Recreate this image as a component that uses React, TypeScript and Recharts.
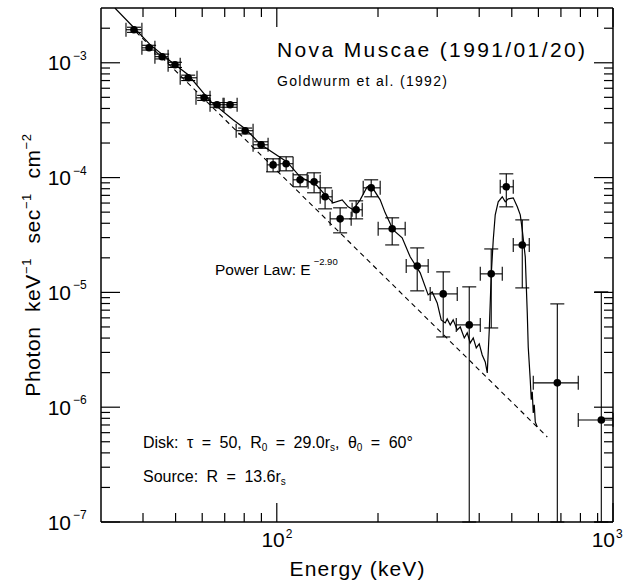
import React from 'react';
import { ComposedChart, Line, Scatter, XAxis, YAxis, ErrorBar } from 'recharts';

// Hard X-ray spectrum of Nova Muscae, 1991 January 20 (log–log)

// Measured spectral points: energy (keV), photon flux, and error-bar bounds
const pointEnergy = [37.6, 41.7, 45.6, 49.8, 54.5, 60.8, 66.4, 72.6, 80.5, 89.8, 97.5, 106.6, 117.3, 129.1, 139.2, 154.3, 172.2, 190.9, 220.4, 261.6, 312.6, 373.6, 434.3, 481.5, 537.2, 682.9, 923];
const pointFlux = [1.94e-3, 1.35e-3, 1.13e-3, 9.6e-4, 7.4e-4, 4.95e-4, 4.31e-4, 4.31e-4, 2.56e-4, 1.93e-4, 1.29e-4, 1.32e-4, 9.56e-5, 9.18e-5, 6.8e-5, 4.37e-5, 5.24e-5, 8.14e-5, 3.58e-5, 1.7e-5, 9.7e-6, 5.21e-6, 1.45e-5, 8.31e-5, 2.59e-5, 1.63e-6, 7.74e-7];
const pointEnergyLo = [35.6, 39.7, 43.4, 47.5, 51.6, 57.5, 63.3, 69.2, 75.7, 85.0, 93.6, 102.3, 111.8, 123.9, 134.6, 144.1, 167.5, 180.7, 200.2, 242.6, 285.9, 341.8, 402.9, 461.9, 505.0, 579.2, 788.2];
const pointEnergyHi = [39.7, 43.4, 47.5, 51.6, 57.9, 63.3, 69.7, 76.2, 85.0, 94.2, 101.6, 111.8, 123.1, 134.6, 146.1, 166.4, 179.5, 203.0, 240.9, 282.0, 344.1, 402.9, 468.4, 505.0, 563.5, 788.2, 1000];
const pointFluxLo = [1.84e-3, 1.29e-3, 1.08e-3, 9.1e-4, 7.0e-4, 4.7e-4, 4.1e-4, 4.1e-4, 2.4e-4, 1.8e-4, 1.122e-4, 1.145e-4, 8.31e-5, 7.37e-5, 5.34e-5, 3.3e-5, 4.37e-5, 6.8e-5, 2.59e-5, 1.031e-5, 4.09e-6, 1e-7, 4.9e-6, 5.56e-5, 1.094e-5, 1e-7, 1e-7];
const pointFluxHi = [2.04e-3, 1.42e-3, 1.19e-3, 1.01e-3, 7.8e-4, 5.2e-4, 4.5e-4, 4.5e-4, 2.7e-4, 2.05e-4, 1.457e-4, 1.517e-4, 1.057e-4, 1.1e-4, 8.14e-5, 5.45e-5, 6.27e-5, 9.56e-5, 4.46e-5, 2.44e-5, 1.509e-5, 1.117e-5, 2.39e-5, 1.078e-4, 4.28e-5, 7.94e-6, 1.01e-5];

// Disk-reflection model spectrum (solid curve)
const modelEnergy = [33.0, 37.6, 42.0, 48.1, 54.5, 63.3, 74.1, 80.5, 89.8, 107.3, 117.3, 131.8, 139.2, 147.1, 156.5, 163.0, 168.7, 177.0, 185.7, 190.9, 203.0, 210.1, 221.9, 236.0, 249.3, 267.0, 282.0, 289.9, 300.0, 308.3, 316.9, 321.3, 328.0, 334.7, 344.1, 351.3, 361.1, 368.5, 376.1, 384.0, 392.0, 400.1, 408.3, 416.9, 422.7, 428.5, 434.3, 440.4, 446.4, 455.6, 468.4, 478.1, 488.1, 505.0, 519.2, 529.9, 537.2, 548.3, 555.9, 559.6, 567.4, 571.3, 575.2, 579.2, 583.2, 587.2, 595.3];
const modelFlux = [3.0e-3, 2.02e-3, 1.44e-3, 1.04e-3, 7.86e-4, 4.66e-4, 3.19e-4, 2.66e-4, 1.93e-4, 1.37e-4, 1.015e-4, 8.48e-5, 7.07e-5, 6.03e-5, 6.4e-5, 5.56e-5, 5.24e-5, 6.4e-5, 8.31e-5, 8.48e-5, 6.4e-5, 4.93e-5, 3.5e-5, 2.99e-5, 2.04e-5, 1.48e-5, 9.51e-6, 1.01e-5, 8.1e-6, 5.76e-6, 5.42e-6, 5.87e-6, 5.21e-6, 5.76e-6, 4.71e-6, 5.0e-6, 4.01e-6, 4.44e-6, 3.63e-6, 4.01e-6, 3.28e-6, 3.56e-6, 2.85e-6, 2.48e-6, 1.99e-6, 4.71e-6, 1.42e-5, 2.87e-5, 4.74e-5, 6.15e-5, 6.8e-5, 6.15e-5, 6.53e-5, 6.66e-5, 5.56e-5, 4.74e-5, 3.5e-5, 2.04e-5, 6.63e-6, 3.35e-6, 1.73e-6, 1.16e-6, 1.36e-6, 8.91e-7, 1.05e-6, 7.44e-7, 6.73e-7];

// Power law E^-2.90 (dashed line)
const powerLawEnergy = [38.1, 637.6];
const powerLawFlux = [1.86e-3, 5.5e-7];

// Axis ranges and tick values
const energyDomain = [30, 1000];
const fluxDomain = [1e-7, 3e-3];
const energyTicks = [40, 50, 60, 70, 80, 90, 100, 200, 300, 400, 500, 600, 700, 800, 900, 1000];
const fluxTicks = [
  1e-7, 2e-7, 3e-7, 4e-7, 5e-7, 6e-7, 7e-7, 8e-7, 9e-7,
  1e-6, 2e-6, 3e-6, 4e-6, 5e-6, 6e-6, 7e-6, 8e-6, 9e-6,
  1e-5, 2e-5, 3e-5, 4e-5, 5e-5, 6e-5, 7e-5, 8e-5, 9e-5,
  1e-4, 2e-4, 3e-4, 4e-4, 5e-4, 6e-4, 7e-4, 8e-4, 9e-4,
  1e-3, 2e-3,
];

const points = pointEnergy.map((e, i) => ({
  e,
  f: pointFlux[i],
  xErr: [e - pointEnergyLo[i], pointEnergyHi[i] - e],
  yErr: [pointFlux[i] - pointFluxLo[i], pointFluxHi[i] - pointFlux[i]],
}));
const model = modelEnergy.map((e, i) => ({ e, f: modelFlux[i] }));
const powerLaw = powerLawEnergy.map((e, i) => ({ e, f: powerLawFlux[i] }));

const W = 624;
const H = 584;
const PLOT = { left: 101, top: 8, right: 613, bottom: 522 };
const FONT = '"Liberation Sans", Arial, Helvetica, sans-serif';
const MAJOR = 19;
const MINOR = 9;

const exponent = (v: number) => Math.round(Math.log10(v));
const isDecade = (v: number) => Math.abs(Math.log10(v) - exponent(v)) < 1e-6;
const supText = (n: number) => (n < 0 ? `\u2212${-n}` : `${n}`);

function BottomTick(props: any) {
  const { x, payload } = props;
  const v = payload.value;
  const major = isDecade(v);
  // keep the last label inside the canvas
  const end = Math.min(x + 8, W - 9);
  return (
    <g>
      <line x1={x} x2={x} y1={PLOT.bottom} y2={PLOT.bottom - (major ? MAJOR : MINOR)} stroke="#000" strokeWidth={1.2} />
      {major && (
        <>
          <text x={end} y={547} textAnchor="end" fontSize={21} fontFamily={FONT} fill="#000">10</text>
          <text x={end + 1} y={538} fontSize={12} fontFamily={FONT} fill="#000">{supText(exponent(v))}</text>
        </>
      )}
    </g>
  );
}

function TopTick(props: any) {
  const { x, payload } = props;
  const major = isDecade(payload.value);
  return <line x1={x} x2={x} y1={PLOT.top} y2={PLOT.top + (major ? MAJOR : MINOR)} stroke="#000" strokeWidth={1.2} />;
}

function LeftTick(props: any) {
  const { y, payload } = props;
  const v = payload.value;
  const major = isDecade(v);
  return (
    <g>
      <line x1={PLOT.left} x2={PLOT.left + (major ? MAJOR : MINOR)} y1={y} y2={y} stroke="#000" strokeWidth={1.2} />
      {major && (
        <>
          <text x={71} y={y + 7.5} textAnchor="end" fontSize={21} fontFamily={FONT} fill="#000">10</text>
          <text x={73} y={y - 3} fontSize={12} fontFamily={FONT} fill="#000">{supText(exponent(v))}</text>
        </>
      )}
    </g>
  );
}

function RightTick(props: any) {
  const { y, payload } = props;
  const major = isDecade(payload.value);
  return <line x1={PLOT.right} x2={PLOT.right - (major ? MAJOR : MINOR)} y1={y} y2={y} stroke="#000" strokeWidth={1.2} />;
}

const Dot = (p: any) => <circle cx={p.cx} cy={p.cy} r={3.8} fill="#000" />;

export default function App() {
  const axisLine = { stroke: '#000', strokeWidth: 1.5 };
  return (
    <div style={{ position: 'absolute', left: 0, top: 0, width: W, height: H, background: '#fff' }}>
      <ComposedChart width={W} height={H} margin={{ top: 0, right: 0, bottom: 32, left: 41 }}>
        <XAxis
          xAxisId={0}
          dataKey="e"
          type="number"
          scale="log"
          domain={energyDomain}
          allowDataOverflow
          ticks={energyTicks}
          interval={0}
          height={30}
          tickSize={0}
          tickMargin={0}
          tickLine={false}
          axisLine={axisLine}
          tick={BottomTick}
        />
        <XAxis
          xAxisId="top"
          orientation="top"
          dataKey="e"
          type="number"
          scale="log"
          domain={energyDomain}
          allowDataOverflow
          ticks={energyTicks}
          interval={0}
          height={8}
          tickSize={0}
          tickMargin={0}
          tickLine={false}
          axisLine={axisLine}
          tick={TopTick}
        />
        <YAxis
          yAxisId={0}
          dataKey="f"
          type="number"
          scale="log"
          domain={fluxDomain}
          allowDataOverflow
          ticks={fluxTicks}
          interval={0}
          width={60}
          tickSize={0}
          tickMargin={0}
          tickLine={false}
          axisLine={axisLine}
          tick={LeftTick}
        />
        <YAxis
          yAxisId="right"
          orientation="right"
          dataKey="f"
          type="number"
          scale="log"
          domain={fluxDomain}
          allowDataOverflow
          ticks={fluxTicks}
          interval={0}
          width={11}
          tickSize={0}
          tickMargin={0}
          tickLine={false}
          axisLine={axisLine}
          tick={RightTick}
        />

        <Line data={powerLaw} dataKey="f" type="linear" stroke="#000" strokeWidth={1.1} strokeDasharray="5 4" dot={false} activeDot={false} isAnimationActive={false} />
        <Line data={model} dataKey="f" type="linear" stroke="#000" strokeWidth={1.2} dot={false} activeDot={false} isAnimationActive={false} />
        <Scatter data={points} dataKey="f" shape={Dot} isAnimationActive={false}>
          <ErrorBar dataKey="xErr" direction="x" width={7} stroke="#000" strokeWidth={1.1} />
          <ErrorBar dataKey="yErr" direction="y" width={7} stroke="#000" strokeWidth={1.1} />
        </Scatter>

        <g fontFamily={FONT} fill="#000">
          <text x={277} y={57} fontSize={21} textLength={308} lengthAdjust="spacing">Nova Muscae (1991/01/20)</text>
          <text x={277} y={86} fontSize={14} textLength={170} lengthAdjust="spacing">Goldwurm et al. (1992)</text>
          <text x={215} y={275} fontSize={15.5}>
            Power Law: E<tspan dx={3} dy={-10} fontSize={9.5}>{'\u22122.90'}</tspan>
          </text>
          <text x={143} y={448} fontSize={16} wordSpacing={4}>
            Disk: τ = 50, R<tspan dy={3} fontSize={10}>0</tspan>
            <tspan dy={-3}> = 29.0r</tspan>
            <tspan dy={3} fontSize={10}>s</tspan>
            <tspan dy={-3}>, θ</tspan>
            <tspan dy={3} fontSize={10}>0</tspan>
            <tspan dy={-3}> = 60°</tspan>
          </text>
          <text x={143} y={482} fontSize={16} wordSpacing={4}>
            Source: R = 13.6r<tspan dy={3} fontSize={10}>s</tspan>
          </text>
          <text x={357} y={576} fontSize={21} textAnchor="middle" textLength={135} lengthAdjust="spacing">Energy (keV)</text>
          <text transform="rotate(-90)" x={-265} y={40} fontSize={21} textAnchor="middle" wordSpacing={8} letterSpacing={0.6}>
            Photon keV<tspan dy={-9} fontSize={13}>{'\u22121'}</tspan>
            <tspan dy={9}> sec</tspan>
            <tspan dy={-9} fontSize={13}>{'\u22121'}</tspan>
            <tspan dy={9}> cm</tspan>
            <tspan dy={-9} fontSize={13}>{'\u22122'}</tspan>
          </text>
        </g>
      </ComposedChart>
    </div>
  );
}
